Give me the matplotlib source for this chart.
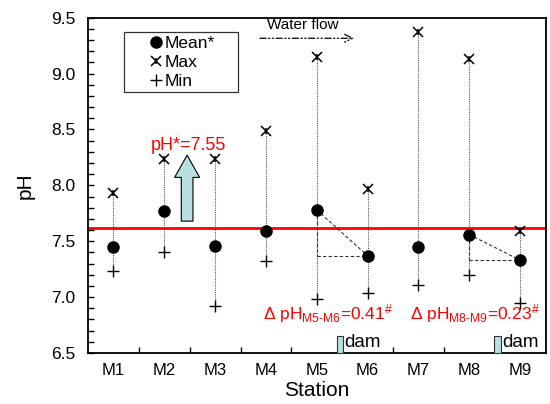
import matplotlib
matplotlib.use("Agg")
import matplotlib.pyplot as plt
from matplotlib.patches import Rectangle
from matplotlib.lines import Line2D
import numpy as np

plt.rcParams['font.family'] = ['Liberation Sans', 'DejaVu Sans']
plt.rcParams['mathtext.default'] = 'regular'

stations = ['M1', 'M2', 'M3', 'M4', 'M5', 'M6', 'M7', 'M8', 'M9']
ph_mean = [7.45, 7.77, 7.46, 7.59, 7.78, 7.37, 7.45, 7.56, 7.33]
ph_max = [7.93, 8.24, 8.24, 8.49, 9.15, 7.97, 9.37, 9.13, 7.59]
ph_min = [7.23, 7.40, 6.92, 7.32, 6.98, 7.04, 7.11, 7.20, 6.95]
ref_line = 7.62
ph_star_label = 'pH*=7.55'
delta_labels = ['\u0394 pH$_{M5\u2010M6}$=0.41$^{\#}$', '\u0394 pH$_{M8\u2010M9}$=0.23$^{\#}$']
dam_positions = [5.46, 8.555]

x = np.arange(1, len(stations) + 1)

W, H = 550, 404
fig = plt.figure(figsize=(5.5, 4.04), dpi=100)
ax_l, ax_r, ax_t, ax_b = 88, 545.5, 17.7, 353
ax = fig.add_axes([ax_l / W, 1 - ax_b / H, (ax_r - ax_l) / W, (ax_b - ax_t) / H])

# dotted range lines
for xi, lo, hi in zip(x, ph_min, ph_max):
    ax.plot([xi, xi], [lo, hi], ls=(0, (1, 1)), color='#555555', lw=0.8, zorder=1)

# reference line
ax.axhline(ref_line, color='#ff0000', lw=2, zorder=2)

# dashed triangles
for i, j in [(4, 5), (7, 8)]:
    ax.plot([x[i], x[j]], [ph_mean[i], ph_mean[j]], ls=(0, (3, 2)), color='#333333', lw=0.8, zorder=2)
    ax.plot([x[i], x[j]], [ph_mean[j], ph_mean[j]], ls=(0, (3, 2)), color='#333333', lw=0.8, zorder=2)
    ax.plot([x[i], x[i]], [ph_mean[i], ph_mean[j]], ls=(0, (3, 2)), color='#333333', lw=0.8, zorder=2)

# markers
ax.plot(x, ph_mean, 'o', color='black', ms=8, zorder=4)
ax.plot(x, ph_max, 'x', color='black', ms=6.5, mew=1.1, zorder=4)
ax.plot(x, ph_max, '|', color='black', ms=4, mew=1.1, zorder=4)
ax.plot(x, ph_min, '+', color='black', ms=8, mew=1.0, zorder=4)

# legend frame (manual) and legend entries
def px2ax(px, py):
    return ((px - ax_l) / (ax_r - ax_l), (ax_b - py) / (ax_b - ax_t))

fx0, fy0 = px2ax(124, 91.7)
fx1, fy1 = px2ax(238, 31.7)
ax.add_patch(Rectangle((fx0, fy0), fx1 - fx0, fy1 - fy0, transform=ax.transAxes,
                       fc='white', ec='#333333', lw=0.9, zorder=6))
h_mean = Line2D([], [], marker='o', color='black', ls='none', ms=8)
h_max1 = Line2D([], [], marker='x', color='black', ls='none', ms=6.5, mew=1.1)
h_max2 = Line2D([], [], marker='|', color='black', ls='none', ms=4, mew=1.1)
h_min = Line2D([], [], marker='+', color='black', ls='none', ms=8, mew=1.0)
lx, ly = px2ax(146, 31.0)
leg = ax.legend([h_mean, (h_max1, h_max2), h_min], ['Mean*', 'Max', 'Min'],
                loc='upper left', bbox_to_anchor=(lx, ly), fontsize=12.5,
                frameon=False, handlelength=0.6, handletextpad=0.15, labelspacing=0.22,
                borderpad=0.3, borderaxespad=0)
leg.set_zorder(7)

# arrow for pH*
ax.annotate('', xy=(2.45, 8.27), xytext=(2.45, 7.68),
            arrowprops=dict(arrowstyle='simple,head_length=0.8,head_width=0.9,tail_width=0.42',
                            mutation_scale=20, fc='#b9dfe1', ec='black', lw=0.8,
                            shrinkA=0, shrinkB=0), zorder=3)
ax.text(2.48, 8.36, ph_star_label, color='#ff0000', fontsize=13, ha='center', va='center')

# water flow
ax.annotate('', xy=(5.73, 9.316), xytext=(3.88, 9.316),
            arrowprops=dict(arrowstyle='->', ls=(0, (5, 2, 1, 2, 1, 2)), lw=0.9,
                            color='black', shrinkA=0, shrinkB=0, mutation_scale=14))
ax.text(4.72, 9.435, 'Water flow', fontsize=11, ha='center', va='center')

# delta texts
ax.text(3.95, 6.855, delta_labels[0], color='#ff0000', fontsize=12.5, ha='left', va='center')
ax.text(6.83, 6.855, delta_labels[1], color='#ff0000', fontsize=12.5, ha='left', va='center')

# dams
for d in dam_positions:
    ax.add_patch(Rectangle((d - 0.06, 6.5), 0.12, 0.155, fc='#b9dfe1', ec='#333333',
                           lw=0.8, zorder=5, clip_on=False))
    ax.text(d + 0.09, 6.59, 'dam', fontsize=13.5, ha='left', va='center')

ax.set_xlim(0.5, 9.5)
ax.set_ylim(6.5, 9.5)
ax.set_xticks(np.arange(1.5, 9.5, 1.0))
ax.set_xticklabels([])
ax.set_xticks(x, minor=True)
ax.set_xticklabels(stations, minor=True, fontsize=12)
ax.tick_params(axis='x', which='minor', length=0, pad=7)
ax.tick_params(axis='x', which='major', direction='in', length=4, width=1)
ax.set_yticks(np.arange(6.5, 9.51, 0.5))
ax.set_yticklabels(['%.1f' % v for v in np.arange(6.5, 9.51, 0.5)], fontsize=12.5)
ax.set_yticks(np.arange(6.5, 9.51, 0.1), minor=True)
ax.tick_params(axis='y', which='both', direction='in', length=4, width=1, pad=9)

for s in ax.spines.values():
    s.set_linewidth(1.3)

ax.set_xlabel('Station', fontsize=15, labelpad=2)
ax.set_ylabel('pH', fontsize=15, labelpad=12)

fig.savefig('out.png', dpi=100)
